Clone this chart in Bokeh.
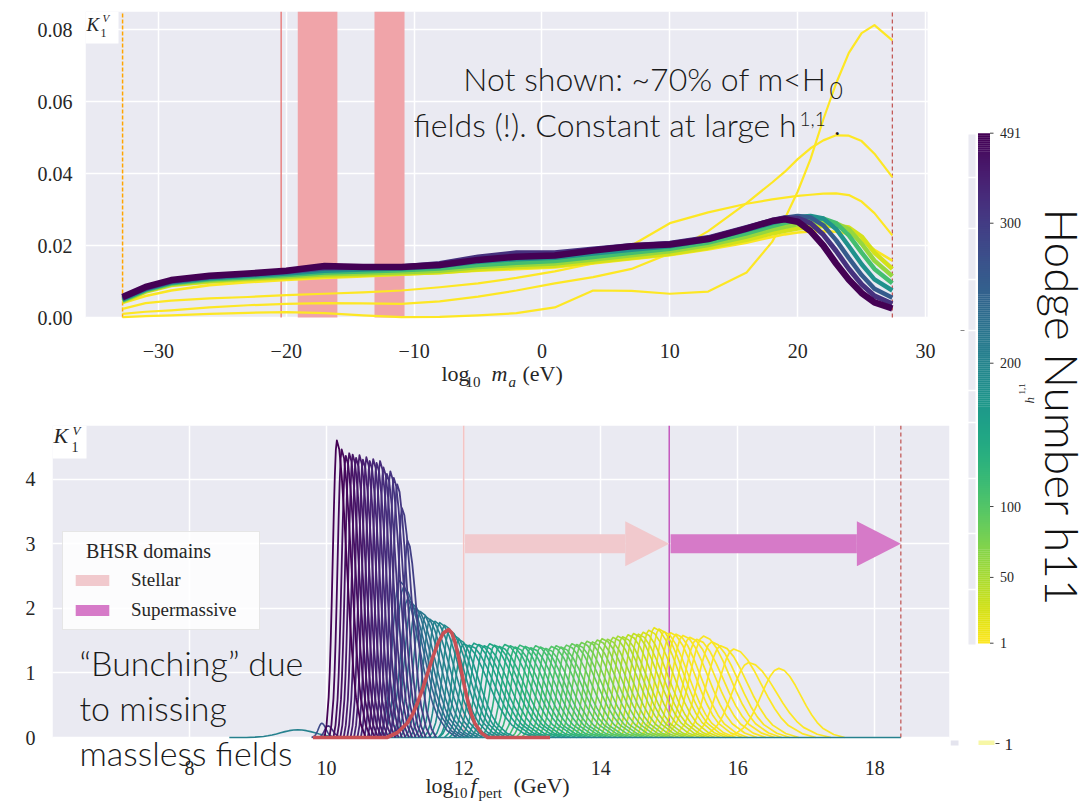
import numpy as np
from bokeh.core.properties import value
from bokeh.embed import file_html
from bokeh.layouts import column, row
from bokeh.models import (BoxAnnotation, FixedTicker, Grid, Label, Legend, LegendItem,
                          NumeralTickFormatter, Range1d)
from bokeh.palettes import Viridis256
from bokeh.plotting import figure
from bokeh.resources import INLINE

SERIF = "Liberation Serif"
SANS = "Lato Light"
INK = "#262626"
NOTE = "#1a1a1a"
PANEL = "#eaeaf2"

# colour bar: h11 tick values and their fractional height along the bar
CB_TICKS = [1, 50, 100, 200, 300, 491]
CB_POS = [0.0, 0.129, 0.268, 0.549, 0.8235, 1.0]


def h11_color(h):
    f = float(np.interp(h, CB_TICKS, CB_POS))
    return Viridis256[int(round((1.0 - f) * 255))]


# ---------------- upper panel: K_1^V against log10 m_a ----------------
MA_X = [-32.8, -31, -29, -26, -23, -20, -17, -14, -11, -8, -5, -2, 1, 4, 7, 10,
        13, 16, 18, 19, 20, 21, 22, 23, 24, 25, 26, 27.4]

KV_H491 = [.0057, .0085, .0104, .0116, .0122, .0130, .0143, .0140, .0140, .0146, .0160, .0169, .0172, .0186,
           .0198, .0203, .0218, .0247, .0268, .0273, .0266, .0240, .0200, .0150, .0105, .0068, .0042, .0025]
KV_H340 = [.0054, .0082, .0101, .0114, .0121, .0129, .0140, .0140, .0141, .0150, .0168, .0180, .0180, .0190,
           .0200, .0206, .0222, .0250, .0270, .0277, .0276, .0262, .0230, .0185, .0135, .0092, .0060, .0038]
KV_H260 = [.0052, .0080, .0099, .0112, .0119, .0126, .0136, .0138, .0140, .0148, .0165, .0178, .0178, .0188,
           .0197, .0204, .0221, .0249, .0268, .0277, .0282, .0278, .0256, .0215, .0165, .0118, .0080, .0055]
KV_H180 = [.0050, .0078, .0097, .0109, .0116, .0122, .0130, .0133, .0136, .0142, .0155, .0162, .0166, .0178,
           .0188, .0198, .0215, .0243, .0262, .0272, .0279, .0282, .0275, .0246, .0198, .0148, .0106, .0075]
KV_H110 = [.0048, .0076, .0095, .0106, .0112, .0118, .0125, .0128, .0131, .0136, .0146, .0152, .0157, .0168,
           .0180, .0191, .0208, .0234, .0254, .0263, .0270, .0274, .0275, .0262, .0228, .0180, .0135, .0095]
KV_H60 = [.0046, .0074, .0093, .0103, .0109, .0114, .0120, .0123, .0126, .0130, .0140, .0146, .0150, .0161,
          .0173, .0184, .0201, .0225, .0244, .0252, .0259, .0263, .0265, .0262, .0245, .0205, .0158, .0115]
KV_H25 = [.0044, .0072, .0090, .0100, .0106, .0111, .0116, .0119, .0122, .0126, .0134, .0140, .0144, .0155,
          .0166, .0177, .0194, .0216, .0234, .0241, .0247, .0251, .0254, .0255, .0250, .0225, .0180, .0135]
KV_H2 = [.0040, .0060, .0075, .0090, .0098, .0104, .0110, .0114, .0119, .0124, .0130, .0134, .0139, .0150,
         .0162, .0173, .0189, .0208, .0224, .0231, .0236, .0239, .0240, .0238, .0232, .0215, .0188, .0158]
KV_H1_A = [.0024, .0040, .0047, .0053, .0057, .0062, .0066, .0070, .0075, .0084, .0095, .0110, .0128, .0150,
           .0200, .0262, .0292, .0316, .0328, .0333, .0338, .0341, .0344, .0345, .0340, .0322, .0290, .0228]
KV_H1_B = [.0010, .0016, .0020, .0028, .0034, .0038, .0040, .0039, .0038, .0045, .0058, .0075, .0095, .0112,
           .0135, .0178, .0240, .0318, .0375, .0405, .0440, .0470, .0492, .0506, .0505, .0490, .0455, .0390]
KV_H1_C = [.0001, .0004, .0006, .0010, .0013, .0015, .0012, .0006, .0001, .0002, .0006, .0012, .0028, .0075,
           .0074, .0066, .0072, .0125, .0210, .0275, .0350, .0440, .0550, .0650, .0735, .0790, .0812, .0770]

# (h11, values, stroke) drawn from small h11 upward so the purple sits on top
MA_CURVES = [(1, KV_H1_C, 2.2), (1, KV_H1_B, 2.2), (1, KV_H1_A, 2.2), (2, KV_H2, 2.6),
             (25, KV_H25, 4.5), (60, KV_H60, 4.5), (110, KV_H110, 4.5), (180, KV_H180, 4.5),
             (260, KV_H260, 4.5), (340, KV_H340, 5.0), (491, KV_H491, 6.5)]

MA_ORANGE_X = -32.8
MA_RED_X = -20.4
MA_END_X = 27.4
MA_BANDS = [(-19.1, -16.0), (-13.1, -10.75)]
MA_XTICKS = [-30, -20, -10, 0, 10, 20, 30]
MA_XLABELS = ["\u221230", "\u221220", "\u221210", "0", "10", "20", "30"]
MA_YTICKS = [0.0, 0.02, 0.04, 0.06, 0.08]

# ---------------- lower panel: K_1^V against log10 f_pert ----------------
# tabulated unit bump, sampled in units of its half-width
PROFILE_U = [-3.0, -2.5, -2.0, -1.75, -1.5, -1.25, -1.0, -0.75, -0.5, -0.25, 0.0,
             0.25, 0.5, 0.75, 1.0, 1.25, 1.5, 1.75, 2.0, 2.5, 3.0]
PROFILE_V = [0.0, 0.044, 0.135, 0.216, 0.325, 0.458, 0.607, 0.755, 0.882, 0.969, 1.0,
             0.969, 0.882, 0.755, 0.607, 0.458, 0.325, 0.216, 0.135, 0.044, 0.0]

BUMP_C = [9.58, 9.93, 10.02]
BUMP_H = [0.12, 0.22, 0.18]
BUMP_WL = [0.25, 0.05, 0.05]
BUMP_WR = [0.25, 0.06, 0.07]
BUMP_H11 = [205, 285, 330]

PURPLE_C = [10.15, 10.22, 10.28, 10.33, 10.38, 10.43, 10.48, 10.53, 10.58, 10.63,
            10.68, 10.73, 10.78, 10.83, 10.88, 10.93, 10.98, 11.03, 11.10, 11.18]
PURPLE_H = [4.60, 4.46, 4.36, 4.40, 4.38, 4.33, 4.37, 4.30, 4.34, 4.28,
            4.31, 4.25, 4.28, 4.18, 4.08, 4.12, 4.02, 3.92, 3.55, 3.05]
PURPLE_H11 = [491, 472, 458, 445, 432, 420, 410, 400, 390, 381,
              372, 364, 356, 348, 340, 332, 324, 316, 306, 296]
PURPLE_WL, PURPLE_WR = 0.06, 0.14

TEAL_C = [11.06, 11.12, 11.18, 11.24, 11.30, 11.37, 11.44, 11.51, 11.58, 11.65, 11.72, 11.79, 11.86, 11.93]
TEAL_H = [2.43, 2.32, 2.14, 2.08, 2.00, 1.95, 1.88, 1.83, 1.80, 1.78, 1.74, 1.66, 1.58, 1.52]
TEAL_H11 = [262, 250, 240, 232, 225, 218, 212, 206, 200, 195, 190, 185, 180, 175]
TEAL_WL, TEAL_WR = 0.10, 0.28

PLATEAU_C = [12.00, 12.08, 12.15, 12.22, 12.30, 12.38, 12.45, 12.52, 12.60, 12.68,
             12.75, 12.82, 12.90, 12.98, 13.05, 13.12, 13.20, 13.28, 13.35, 13.42,
             13.50, 13.58, 13.65, 13.72, 13.80, 13.88, 13.95, 14.02, 14.10, 14.18,
             14.25, 14.32, 14.40, 14.48, 14.55, 14.62, 14.70, 14.78, 14.85, 14.92]
PLATEAU_H = [1.45, 1.43, 1.46, 1.44, 1.42, 1.45, 1.43, 1.41, 1.44, 1.42,
             1.40, 1.43, 1.41, 1.39, 1.42, 1.40, 1.38, 1.41, 1.42, 1.40,
             1.43, 1.45, 1.44, 1.47, 1.49, 1.48, 1.51, 1.53, 1.52, 1.55,
             1.57, 1.56, 1.59, 1.61, 1.60, 1.63, 1.66, 1.70, 1.68, 1.64]
PLATEAU_H11 = [168, 164, 160, 156, 152, 148, 144, 140, 136, 132,
               128, 124, 120, 116, 112, 108, 104, 100, 97, 94,
               91, 88, 85, 81, 77, 73, 69, 65, 60, 55,
               50, 45, 40, 35, 30, 25, 20, 15, 10, 6]
PLATEAU_WL, PLATEAU_WR = 0.12, 0.35

TAIL_C = [15.02, 15.10, 15.20, 15.30, 15.40, 15.50, 15.62, 15.75, 15.94, 16.16, 16.60]
TAIL_H = [1.62, 1.60, 1.58, 1.55, 1.52, 1.57, 1.48, 1.42, 1.37, 1.16, 1.07]
TAIL_WL = [0.15, 0.15, 0.16, 0.17, 0.18, 0.20, 0.20, 0.20, 0.22, 0.24, 0.26]
TAIL_WR = [0.35, 0.35, 0.36, 0.37, 0.38, 0.38, 0.38, 0.38, 0.40, 0.40, 0.32]
TAIL_H11 = [5, 4, 4, 3, 3, 2, 2, 2, 1, 1, 1]

RED_C, RED_H, RED_WL, RED_WR = 11.78, 1.67, 0.30, 0.19
RED_SPAN = [9.8, 13.26]
BASELINE_SPAN = [8.58, 18.38]

F_STELLAR = [12.0, 15.0]
F_SUPERMASSIVE = [15.0, 18.38]
F_END_X = 18.38
ARROW_Y = 3.0
F_XTICKS = [8, 10, 12, 14, 16, 18]
F_YTICKS = [0, 1, 2, 3, 4]

PINK = "#f1c9cd"
ORCHID = "#d67ac8"


def bump(c, h, wl, wr):
    xs = [c + u * (wl if u < 0 else wr) for u in PROFILE_U]
    ys = [h * v for v in PROFILE_V]
    return xs, ys


def style_axes(p):
    p.grid.grid_line_color = "white"
    p.grid.grid_line_width = 1.3
    p.axis.axis_line_color = None
    p.axis.major_tick_line_color = None
    p.axis.minor_tick_line_color = None
    p.axis.major_tick_out = 0
    p.axis.major_label_text_font = SERIF
    p.axis.major_label_text_font_size = "20px"
    p.axis.major_label_text_color = INK


def add_label(p, sx, sy, text, size, style="normal", font=SERIF, align="left", color=INK):
    # sy is the wanted baseline above the frame bottom; labels sit ~0.44 em low
    px = float(size.rstrip("px"))
    p.add_layout(Label(x=sx, y=sy + 0.44 * px, x_units="screen", y_units="screen", text=text,
                       text_font=font, text_font_size=size, text_font_style=style,
                       text_align=align, text_baseline="alphabetic", text_color=color))


# ===================== upper figure =====================
# plot area is 842 x 306 px; the frame also covers the strip below and to the
# right of it, which carries the tick labels and the axis title
MA_LO, MA_HI = -35.7, 30.15
px_per_ma = 842 / (MA_HI - MA_LO)
KV_TOP = 0.085
KV_PX = KV_TOP / 306
KV_BOT = -79 * KV_PX
p1 = figure(width=950, height=396, x_range=Range1d(MA_LO, MA_HI + 23 / px_per_ma),
            y_range=Range1d(KV_BOT, KV_TOP),
            output_backend="svg", toolbar_location=None, x_axis_location=None,
            min_border_left=85, min_border_right=0, min_border_top=11, min_border_bottom=0,
            background_fill_color="white", border_fill_color="white", outline_line_color=None)
p1.frame_align = False
p1.add_layout(BoxAnnotation(left=MA_LO, right=MA_HI, bottom=0, top=KV_TOP, fill_color=PANEL,
                            fill_alpha=1.0, line_color=None, level="image"))
p1.add_layout(Grid(dimension=0, ticker=FixedTicker(ticks=MA_XTICKS)))
style_axes(p1)
p1.yaxis.ticker = FixedTicker(ticks=MA_YTICKS)
p1.yaxis.formatter = NumeralTickFormatter(format="0.00")
p1.yaxis.major_label_standoff = 13

for lo, hi in MA_BANDS:
    p1.add_layout(BoxAnnotation(left=lo, right=hi, bottom=0, top=KV_TOP, fill_color="#f0a4a9",
                                fill_alpha=1.0, line_color=None, level="underlay"))
p1.segment(x0=[MA_RED_X], y0=[0], x1=[MA_RED_X], y1=[KV_TOP], line_color="#e8716f", line_width=1.3)
p1.segment(x0=[MA_ORANGE_X], y0=[0], x1=[MA_ORANGE_X], y1=[KV_TOP], line_color="#ffa500",
           line_width=1.5, line_dash="4 2")
p1.segment(x0=[MA_END_X], y0=[0], x1=[MA_END_X], y1=[KV_TOP], line_color="#c0504d",
           line_width=1.2, line_dash="4 3")

for h, vals, lw in MA_CURVES:
    p1.line(MA_X, vals, line_color=h11_color(h), line_width=lw, line_join="round")

p1.text(x=MA_XTICKS, y=[-33 * KV_PX] * len(MA_XTICKS), text=MA_XLABELS, text_font=value(SERIF),
        text_font_size="20px", text_color=INK, text_align="center", text_baseline="middle")

# corner symbol box
p1.add_layout(BoxAnnotation(left=MA_LO, right=MA_LO + 33 / px_per_ma,
                            bottom=KV_TOP - 32 * KV_PX, top=KV_TOP,
                            fill_color="white", fill_alpha=1.0, line_color=None, level="underlay"))
add_label(p1, 1, 364, "K", "19px", "italic")
add_label(p1, 15, 358, "1", "12px")
add_label(p1, 17, 374, "V", "11px", "italic")

# axis title
add_label(p1, 356, 13, "log", "22px")
add_label(p1, 380, 8, "10", "15px")
add_label(p1, 406, 13, "m", "22px", "italic")
add_label(p1, 423, 8, "a", "15px", "italic")
add_label(p1, 437, 13, "(eV)", "22px")

# note
add_label(p1, 741, 304, "Not shown: ~70% of m<H", "32px", font=SANS, align="right", color=NOTE)
add_label(p1, 744, 296, "0", "23px", font=SANS, color=NOTE)
add_label(p1, 711, 258, "fields (!). Constant at large h", "32px", font=SANS, align="right", color=NOTE)
add_label(p1, 714, 269, "1,1", "19px", font=SANS, color=NOTE)
add_label(p1, 748, 258, ".", "32px", font=SANS, color=NOTE)

# ===================== lower figure =====================
# plot area is 897 x 312 px; the frame also covers the strip below it
F_LO, F_HI = 6.0, 19.09
KF_TOP = 4.83
KF_PX = KF_TOP / 312
KF_BOT = -66 * KF_PX
px_per_f = 897 / (F_HI - F_LO)
p2 = figure(width=950, height=407, x_range=Range1d(F_LO, F_HI), y_range=Range1d(KF_BOT, KF_TOP),
            output_backend="svg", toolbar_location=None, x_axis_location=None,
            min_border_left=52, min_border_right=1, min_border_top=29, min_border_bottom=0,
            background_fill_color="white", border_fill_color="white", outline_line_color=None)
p2.frame_align = False
p2.add_layout(BoxAnnotation(left=F_LO, right=F_HI, bottom=0, top=KF_TOP, fill_color=PANEL,
                            fill_alpha=1.0, line_color=None, level="image"))
p2.add_layout(Grid(dimension=0, ticker=FixedTicker(ticks=F_XTICKS)))
style_axes(p2)
p2.yaxis.ticker = FixedTicker(ticks=F_YTICKS)
p2.yaxis.major_label_standoff = 17

p2.segment(x0=[F_STELLAR[0]], y0=[0], x1=[F_STELLAR[0]], y1=[KF_TOP], line_color="#f4c4c4", line_width=1.6)
p2.segment(x0=[F_SUPERMASSIVE[0]], y0=[0], x1=[F_SUPERMASSIVE[0]], y1=[KF_TOP],
           line_color="#c458be", line_width=1.5)
p2.segment(x0=[F_END_X], y0=[0], x1=[F_END_X], y1=[KF_TOP], line_color="#c0504d",
           line_width=1.2, line_dash="4 3")

xs_all, ys_all, col_all, lw_all = [], [], [], []


def push(c, h, wl, wr, h11, lw, pad=None):
    xs, ys = bump(c, h, wl, wr)
    if pad is not None:
        xs = [pad[0]] + xs + [pad[1]]
        ys = [0.0] + ys + [0.0]
    xs_all.append(xs)
    ys_all.append(ys)
    col_all.append(h11_color(h11))
    lw_all.append(lw)


for c, h, wl, wr, k in zip(TAIL_C, TAIL_H, TAIL_WL, TAIL_WR, TAIL_H11):
    push(c, h, wl, wr, k, 1.7)
for c, h, k in reversed(list(zip(PLATEAU_C, PLATEAU_H, PLATEAU_H11))):
    push(c, h, PLATEAU_WL, PLATEAU_WR, k, 1.6)
for c, h, k in reversed(list(zip(TEAL_C, TEAL_H, TEAL_H11))):
    push(c, h, TEAL_WL, TEAL_WR, k, 1.6)
push(BUMP_C[0], BUMP_H[0], BUMP_WL[0], BUMP_WR[0], BUMP_H11[0], 1.6, pad=BASELINE_SPAN)
for c, h, wl, wr, k in zip(BUMP_C[1:], BUMP_H[1:], BUMP_WL[1:], BUMP_WR[1:], BUMP_H11[1:]):
    push(c, h, wl, wr, k, 1.6)
for c, h, k in reversed(list(zip(PURPLE_C, PURPLE_H, PURPLE_H11))):
    push(c, h, PURPLE_WL, PURPLE_WR, k, 1.8)

p2.multi_line(xs_all, ys_all, line_color=col_all, line_width=lw_all, line_join="round")

rx, ry = bump(RED_C, RED_H, RED_WL, RED_WR)
p2.line([RED_SPAN[0]] + rx + [RED_SPAN[1]], [0.0] + ry + [0.0],
        line_color="#c95055", line_width=3.6, line_join="round")

# BHSR domain arrows: shaft plus triangular head
shaft_half = 9.5 * KF_PX
head_half = 22.5 * KF_PX
head_len = 44 / px_per_f
arrow_renderers = []
for (x0, x1), col in ((F_STELLAR, PINK), (F_SUPERMASSIVE, ORCHID)):
    r = p2.quad(left=[x0 + 0.02], right=[x1 - head_len], bottom=[ARROW_Y - shaft_half],
                top=[ARROW_Y + shaft_half], fill_color=col, line_color=None)
    p2.patch([x1 - head_len, x1 - head_len, x1], [ARROW_Y - head_half, ARROW_Y + head_half, ARROW_Y],
             fill_color=col, line_color=None)
    arrow_renderers.append(r)

legend = Legend(items=[LegendItem(label="Stellar", renderers=[arrow_renderers[0]]),
                       LegendItem(label="Supermassive", renderers=[arrow_renderers[1]])],
                location=(10, 173), title="\u00a0\u00a0\u00a0BHSR domains")
legend.title_text_font = SERIF
legend.title_text_font_size = "20px"
legend.title_text_font_style = "normal"
legend.title_text_color = INK
legend.title_standoff = 6
legend.label_text_font = SERIF
legend.label_text_font_size = "19px"
legend.label_text_color = INK
legend.glyph_width = 42
legend.glyph_height = 14
legend.label_standoff = 18
legend.label_width = 120
legend.label_height = 22
legend.spacing = 8
legend.padding = 8
legend.margin = 0
legend.border_line_color = "#d0d0d0"
legend.border_line_width = 1
legend.background_fill_color = "white"
legend.background_fill_alpha = 0.85
p2.add_layout(legend)

p2.text(x=F_XTICKS, y=[-30 * KF_PX] * len(F_XTICKS), text=[str(t) for t in F_XTICKS],
        text_font=value(SERIF), text_font_size="20px", text_color=INK,
        text_align="center", text_baseline="middle")

p2.add_layout(BoxAnnotation(left=F_LO, right=F_LO + 34 / px_per_f,
                            bottom=KF_TOP - 33 * KF_PX, top=KF_TOP,
                            fill_color="white", fill_alpha=1.0, line_color=None, level="underlay"))
add_label(p2, 1, 358, "K", "22px", "italic")
add_label(p2, 19, 350, "1", "14px")
add_label(p2, 20, 367, "V", "13px", "italic")

add_label(p2, 373, 8, "log", "22px")
add_label(p2, 400, 4, "10", "15px")
add_label(p2, 418, 8, "f", "22px", "italic")
add_label(p2, 426, 4, "pert", "15px")
add_label(p2, 461, 8, "(GeV)", "22px")

add_label(p2, 27, 126, "\u201cBunching\u201d due", "34px", font=SANS, color=NOTE)
add_label(p2, 27, 81, "to missing", "34px", font=SANS, color=NOTE)
add_label(p2, 27, 36, "massless fields", "34px", font=SANS, color=NOTE)

# ===================== colour bar column =====================
p3 = figure(width=140, height=803, x_range=Range1d(950, 1090), y_range=Range1d(803, 0),
            output_backend="svg", toolbar_location=None, min_border=0,
            x_axis_location=None, y_axis_location=None,
            background_fill_color="white", border_fill_color="white", outline_line_color=None)
p3.grid.visible = False

CB_TOP, CB_BOT, CB_L, CB_R = 132.7, 642.7, 977.5, 989.5
n = len(Viridis256)
step = (CB_BOT - CB_TOP) / n
p3.quad(left=[CB_L] * n, right=[CB_R] * n,
        top=[CB_TOP + i * step for i in range(n)], bottom=[CB_TOP + (i + 1) * step + 0.3 for i in range(n)],
        fill_color=list(Viridis256), line_color=None)

tick_y = [CB_BOT - f * (CB_BOT - CB_TOP) for f in CB_POS]
p3.segment(x0=[CB_R] * len(tick_y), y0=tick_y, x1=[CB_R + 3.5] * len(tick_y), y1=tick_y,
           line_color="#444444", line_width=1)
p3.text(x=[CB_R + 10] * len(tick_y), y=tick_y, text=[str(t) for t in CB_TICKS],
        text_font=value(SERIF), text_font_size="14px", text_color=INK, text_baseline="middle")

p3.text(x=[1029], y=[403], text=["h"], angle=np.pi / 2, text_font=value(SERIF),
        text_font_style="italic", text_font_size="13px", text_color=INK, text_baseline="alphabetic")
p3.text(x=[1021], y=[394], text=["1,1"], angle=np.pi / 2, text_font=value(SERIF),
        text_font_size="9px", text_color=INK, text_baseline="alphabetic")

p3.text(x=[1062], y=[407], text=["Hodge Number h11"], angle=-np.pi / 2, text_font=value(SANS),
        text_font_size="46px", text_color="#111111", text_align="center", text_baseline="middle")

# faint strip of a neighbouring panel and small stray swatch
p3.quad(left=[968], right=[975], top=[134], bottom=[644], fill_color=PANEL, line_color=None)
p3.segment(x0=[967] * 9, x1=[976] * 9, y0=[177, 228, 279, 330, 390, 422, 478, 533, 589],
           y1=[177, 228, 279, 330, 390, 422, 478, 533, 589], line_color="white", line_width=1.5)
p3.segment(x0=[960], x1=[964], y0=[330], y1=[330], line_color="#888888", line_width=1)
p3.quad(left=[950], right=[958], top=[740], bottom=[745], fill_color="#e4e4ee", line_color=None)
p3.quad(left=[978], right=[994], top=[740], bottom=[744.5], fill_color="#f7f7a6", line_color=None)
p3.segment(x0=[995], x1=[999], y0=[743], y1=[743], line_color="#444444", line_width=1)
p3.text(x=[1004], y=[744], text=["1"], text_font=value(SERIF), text_font_size="17px",
        text_color=INK, text_baseline="middle")

layout = row(column(p1, p2), p3)
open("out.html", "w").write(file_html(layout, INLINE))
